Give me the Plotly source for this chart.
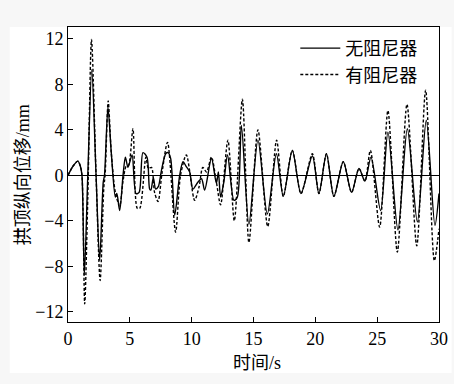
import plotly.graph_objects as go

# 无阻尼器 (solid)
t_no = [0.0, 0.4, 0.8, 1.0, 1.13, 1.32, 1.6, 1.92, 2.27, 2.56, 2.85, 2.95, 3.23, 3.5, 3.83, 3.95,
        4.18, 4.45, 4.64, 4.85, 5.18, 5.5, 5.75, 6.06, 6.39, 6.6, 6.7, 6.9, 7.09, 7.3, 7.55, 7.9,
        8.09, 8.3, 8.63, 9.03, 9.3, 9.55, 9.84, 10.1, 10.5, 10.8, 11.05, 11.6, 12.0, 12.16, 12.34,
        12.6, 12.9, 13.42, 13.7, 14.02, 14.63, 15.36, 16.12, 16.85, 17.41, 18.14, 18.84, 19.76,
        20.29, 20.9, 21.5, 22.26, 22.93, 23.53, 24.01, 24.5, 25.28, 25.87, 26.68, 27.44, 28.25,
        28.97, 29.67, 30.0]
v_no = [0.0, 0.8, 1.25, 0.8, 0.0, -8.8, 0.0, 9.3, 0.0, -7.5, -0.6, 0.0, 6.0, 2.0, -1.9, -1.6,
        -3.1, 0.0, 1.6, 0.7, 1.8, -1.6, -1.5, 2.0, 1.6, -1.2, -1.3, -0.2, -1.2, -1.0, 0.4, 1.9,
        2.0, 1.5, -3.5, 0.0, 1.2, 0.8, 0.3, -1.2, -0.6, -0.3, -1.3, 1.5, -0.7, 0.3, -1.9,
        -0.6, 1.8, -2.2, -1.9, 4.4, -4.3, 3.1, -3.4, 1.9, -1.85, 2.2, -1.6, 1.7,
        -1.6, 1.9, -1.85, 1.2, -1.5, 0.6, -0.5, 1.6, -3.1, 3.8, -4.8, 4.1, -4.1,
        4.85, -4.4, -1.6]

# 有阻尼器 (dotted)
t_yes = [0.0, 0.4, 0.8, 1.0, 1.13, 1.35, 1.6, 1.9, 2.27, 2.6, 2.9, 3.0, 3.25, 3.5, 3.83, 4.18,
         4.45, 4.7, 4.9, 5.25, 5.6, 5.8, 6.3, 6.5, 6.75, 7.0, 7.28, 7.6, 8.05, 8.7, 9.1, 9.57,
         10.24, 10.6, 10.9, 11.2, 11.6, 12.0, 12.34, 12.93, 13.45, 14.1, 14.63, 15.36, 16.15,
         16.87, 17.41, 18.14, 18.84, 19.76, 20.29, 20.9, 21.5, 22.26, 22.93, 23.53, 24.01,
         24.45, 25.2, 25.87, 26.63, 27.41, 28.2, 28.92, 29.62, 30.0]
v_yes = [0.0, 0.8, 1.25, 0.8, 0.0, -11.3, -2.0, 11.95, 0.0, -9.25, -1.0, 0.0, 6.55, 2.0, -1.5, -2.7,
         -0.5, 0.8, 0.9, 4.1, -2.9, -2.9, 1.6, 0.6, 0.7, -1.5, -2.3, 0.2, 2.9, -5.0, 0.0, 1.8,
         -2.2, -1.0, 0.7, 0.3, 1.6, -0.6, -2.6, 3.1, -4.0, 6.7, -5.9, 4.0, -4.5,
         3.1, -1.85, 2.2, -1.6, 1.9, -1.6, 1.9, -1.85, 1.2, -1.5, 0.6, -0.5,
         2.2, -4.55, 5.7, -6.75, 6.25, -6.2, 7.5, -7.5, -4.7]

x_ticks = [0, 5, 10, 15, 20, 25, 30]
y_ticks = [-12, -8, -4, 0, 4, 8, 12]
x_title = "时间/s"
y_title = "拱顶纵向位移/mm"

SERIF = "Liberation Serif"
FONT = "Liberation Serif, Noto Sans CJK SC, serif"

fig = go.Figure()
fig.add_trace(go.Scatter(x=t_no, y=v_no, mode="lines", name="无阻尼器",
                         line=dict(color="black", width=1.4, shape="spline", smoothing=0.8)))
fig.add_trace(go.Scatter(x=t_yes, y=v_yes, mode="lines", name="有阻尼器",
                         line=dict(color="black", width=1.4, dash="3px,2px", shape="spline", smoothing=0.8)))

axis_common = dict(showline=True, linecolor="black", linewidth=1, mirror=True,
                   ticks="inside", ticklen=5, tickwidth=1, tickcolor="black",
                   showgrid=False, automargin=False,
                   tickfont=dict(family=SERIF, size=18, color="black"))

fig.update_xaxes(range=[0, 30], tickvals=x_ticks, zeroline=False, **axis_common)
fig.update_yaxes(range=[-12.9, 13.05], tickvals=y_ticks, zeroline=True, zerolinecolor="black",
                 zerolinewidth=1.2, **axis_common)

fig.add_annotation(text=x_title, xref="paper", yref="paper", x=0.51, y=-0.14,
                   xanchor="center", yanchor="middle", showarrow=False,
                   font=dict(family=FONT, size=18, color="black"))
fig.add_annotation(text=y_title, xref="paper", yref="paper", x=-0.122, y=0.5,
                   xanchor="center", yanchor="middle", showarrow=False, textangle=-90,
                   font=dict(family=FONT, size=18, color="black"))

fig.add_shape(type="rect", xref="paper", yref="paper", x0=-0.157, x1=1.034, y0=-0.173, y1=1.0,
              fillcolor="white", line=dict(width=0), layer="below")

fig.update_layout(
    width=454, height=384,
    margin=dict(l=68, r=15, t=27, b=62),
    paper_bgcolor="#f7f7f7", plot_bgcolor="white",
    font=dict(family=FONT, size=18, color="black"),
    showlegend=True,
    legend=dict(x=0.955, y=0.99, xanchor="right", yanchor="top", bgcolor="rgba(0,0,0,0)",
                borderwidth=0, font=dict(family=FONT, size=18, color="black"),
                tracegroupgap=0, itemwidth=40),
)

fig.write_html("out.html", config={"displayModeBar": False},
               post_script="document.body.style.margin='0';document.body.style.padding='0';")
